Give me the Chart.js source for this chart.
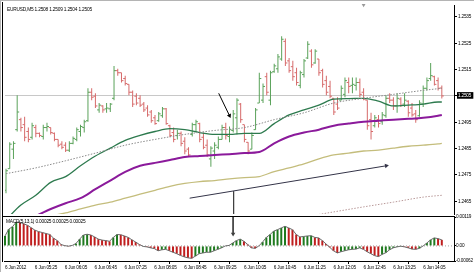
<!DOCTYPE html>
<html>
<head>
<meta charset="utf-8">
<script src="https://cdn.jsdelivr.net/npm/chart.js@4.4.1/dist/chart.umd.min.js"></script>
<style>
  html, body { margin: 0; padding: 0; background: #fff; }
  #wrap { position: relative; width: 474px; height: 272px; overflow: hidden; background: #fff; }
  canvas { position: absolute; left: 0; }
  #main { top: 0; }
  #sub { top: 210px; }
  .rule { position: absolute; }
</style>
</head>
<body>
<div id="wrap">
  <canvas id="main" width="474" height="219"></canvas>
  <canvas id="sub" width="474" height="62"></canvas>
  <div class="rule" style="left:0;top:0;width:474px;height:1px;background:#b4b4b4"></div>
  <div class="rule" style="left:0;top:0;width:1px;height:272px;background:#b4b4b4"></div>
  <div class="rule" style="left:2px;top:2px;width:1px;height:260px;background:#000"></div>
  <div class="rule" style="left:2px;top:216px;width:453px;height:1px;background:#000"></div>
</div>
<script>
// EURUSD M5, 6 Jun 2012 - one value per bar
const opens = [
  1.24692, 1.24774, 1.24848, 1.24922, 1.24960, 1.24941, 1.24915, 1.24893, 1.24930, 1.24908,
  1.24896, 1.24930, 1.24930, 1.24908, 1.24885, 1.24867, 1.24863, 1.24844, 1.24870, 1.24885,
  1.24915, 1.24930, 1.24956, 1.25064, 1.25049, 1.24997, 1.25012, 1.25001, 1.25001, 1.25041,
  1.25146, 1.25138, 1.25116, 1.25094, 1.25064, 1.25049, 1.25041, 1.25019, 1.25004, 1.24989,
  1.24967, 1.24956, 1.24975, 1.25001, 1.24937, 1.24911, 1.24900, 1.24908, 1.24878, 1.24848,
  1.24904, 1.24941, 1.24945, 1.24893, 1.24863, 1.24811, 1.24841, 1.24855, 1.24885, 1.24930,
  1.24896, 1.24919, 1.24967, 1.25019, 1.24941, 1.24874, 1.24848, 1.24922, 1.25023, 1.25034,
  1.25123, 1.25034, 1.25142, 1.25153, 1.25190, 1.25257, 1.25183, 1.25161, 1.25138, 1.25090,
  1.25131, 1.25194, 1.25220, 1.25175, 1.25190, 1.25146, 1.25108, 1.25086, 1.25041, 1.25019,
  1.25034, 1.25056, 1.25101, 1.25090, 1.25090, 1.25101, 1.25064, 1.25034, 1.24960, 1.24937,
  1.24960, 1.24952, 1.24975, 1.25041, 1.25034, 1.25012, 1.25038, 1.25019, 1.25030, 1.25004,
  1.24982, 1.24975, 1.25019, 1.25079, 1.25116, 1.25123, 1.25108, 1.25080
];
const highs = [
  1.24774, 1.24874, 1.24878, 1.25053, 1.24967, 1.24971, 1.24930, 1.24948, 1.24941, 1.24911,
  1.24941, 1.24948, 1.24930, 1.24911, 1.24885, 1.24878, 1.24874, 1.24878, 1.24896, 1.24930,
  1.24941, 1.24960, 1.25079, 1.25079, 1.25060, 1.25023, 1.25015, 1.25023, 1.25023, 1.25164,
  1.25153, 1.25138, 1.25127, 1.25094, 1.25071, 1.25060, 1.25053, 1.25027, 1.25015, 1.24997,
  1.24978, 1.24989, 1.25008, 1.25004, 1.24941, 1.24930, 1.24922, 1.24915, 1.24893, 1.24855,
  1.24948, 1.24960, 1.24948, 1.24911, 1.24885, 1.24859, 1.24874, 1.24896, 1.24941, 1.24948,
  1.24934, 1.24997, 1.25041, 1.25023, 1.24941, 1.24874, 1.24911, 1.25004, 1.25138, 1.25097,
  1.25138, 1.25146, 1.25172, 1.25209, 1.25276, 1.25268, 1.25194, 1.25183, 1.25157, 1.25146,
  1.25190, 1.25257, 1.25227, 1.25227, 1.25190, 1.25153, 1.25127, 1.25108, 1.25041, 1.25045,
  1.25090, 1.25120, 1.25120, 1.25120, 1.25120, 1.25116, 1.25079, 1.25034, 1.24986, 1.24978,
  1.24978, 1.24989, 1.25053, 1.25060, 1.25045, 1.25060, 1.25045, 1.25060, 1.25034, 1.25023,
  1.24997, 1.25034, 1.25090, 1.25120, 1.25175, 1.25127, 1.25120, 1.25090
];
const lows = [
  1.24681, 1.24774, 1.24811, 1.24915, 1.24915, 1.24878, 1.24874, 1.24885, 1.24893, 1.24893,
  1.24885, 1.24915, 1.24904, 1.24878, 1.24855, 1.24848, 1.24837, 1.24837, 1.24867, 1.24878,
  1.24896, 1.24911, 1.24952, 1.25034, 1.25004, 1.24986, 1.24986, 1.24986, 1.24989, 1.25034,
  1.25127, 1.25101, 1.25090, 1.25053, 1.25008, 1.25015, 1.25008, 1.24989, 1.24971, 1.24948,
  1.24941, 1.24952, 1.24967, 1.24941, 1.24893, 1.24874, 1.24885, 1.24859, 1.24829, 1.24818,
  1.24896, 1.24911, 1.24874, 1.24848, 1.24818, 1.24781, 1.24811, 1.24848, 1.24885, 1.24885,
  1.24874, 1.24911, 1.24904, 1.24948, 1.24874, 1.24829, 1.24848, 1.24922, 1.25023, 1.25023,
  1.25053, 1.25015, 1.25138, 1.25138, 1.25183, 1.25164, 1.25138, 1.25108, 1.25090, 1.25079,
  1.25120, 1.25190, 1.25157, 1.25172, 1.25127, 1.25082, 1.25053, 1.25041, 1.24978, 1.24997,
  1.25034, 1.25045, 1.25060, 1.25060, 1.25071, 1.25045, 1.25034, 1.24922, 1.24885, 1.24930,
  1.24930, 1.24941, 1.24967, 1.25023, 1.24997, 1.24986, 1.25008, 1.25008, 1.24971, 1.24971,
  1.24948, 1.24971, 1.25008, 1.25071, 1.25108, 1.25090, 1.25071, 1.25040
];
const closes = [
  1.24766, 1.24867, 1.24870, 1.24989, 1.24930, 1.24893, 1.24885, 1.24937, 1.24908, 1.24900,
  1.24930, 1.24934, 1.24911, 1.24885, 1.24863, 1.24855, 1.24844, 1.24870, 1.24889, 1.24922,
  1.24934, 1.24952, 1.25064, 1.25045, 1.25012, 1.25015, 1.24997, 1.25004, 1.25019, 1.25146,
  1.25138, 1.25108, 1.25097, 1.25064, 1.25019, 1.25023, 1.25015, 1.24997, 1.24978, 1.24956,
  1.24945, 1.24982, 1.25001, 1.24945, 1.24900, 1.24885, 1.24908, 1.24870, 1.24841, 1.24826,
  1.24941, 1.24952, 1.24885, 1.24855, 1.24826, 1.24852, 1.24863, 1.24885, 1.24930, 1.24900,
  1.24922, 1.24982, 1.25034, 1.24960, 1.24885, 1.24841, 1.24900, 1.24997, 1.25116, 1.25086,
  1.25064, 1.25138, 1.25164, 1.25198, 1.25265, 1.25175, 1.25146, 1.25123, 1.25101, 1.25138,
  1.25183, 1.25246, 1.25168, 1.25220, 1.25138, 1.25094, 1.25064, 1.25049, 1.24989, 1.25004,
  1.25079, 1.25108, 1.25086, 1.25094, 1.25101, 1.25056, 1.25038, 1.24937, 1.24915, 1.24967,
  1.24945, 1.24978, 1.25041, 1.25034, 1.25012, 1.25041, 1.25015, 1.25034, 1.24986, 1.24978,
  1.24960, 1.25023, 1.25079, 1.25108, 1.25127, 1.25094, 1.25079, 1.25050
];

// moving averages, every 4th bar
const maIdx = [0, 4, 8, 12, 16, 20, 24, 28, 32, 36, 40, 44, 48, 52, 56, 60, 64, 68, 72, 76, 80, 84, 88, 92, 96, 100, 104, 108, 112, 116, 117];
const maGreen = [
  1.24580, 1.24636, 1.24673, 1.24722, 1.24744, 1.24785, 1.24822, 1.24852, 1.24881, 1.24900,
  1.24915, 1.24926, 1.24922, 1.24911, 1.24904, 1.24904, 1.24908, 1.24908, 1.24945, 1.24978,
  1.24997, 1.25015, 1.25038, 1.25040, 1.25041, 1.25030, 1.25012, 1.25015, 1.25019, 1.25027, 1.25027
];
const maPurple = [
  1.24558, 1.24576, 1.24595, 1.24621, 1.24643, 1.24662, 1.24696, 1.24729, 1.24762, 1.24785,
  1.24796, 1.24807, 1.24818, 1.24822, 1.24826, 1.24829, 1.24833, 1.24837, 1.24870, 1.24896,
  1.24911, 1.24922, 1.24937, 1.24945, 1.24952, 1.24956, 1.24960, 1.24963, 1.24967, 1.24975, 1.24978
];
const maKhaki = [
  1.24558, 1.24573, 1.24584, 1.24595, 1.24606, 1.24621, 1.24636, 1.24647, 1.24662, 1.24677,
  1.24692, 1.24707, 1.24718, 1.24725, 1.24729, 1.24735, 1.24740, 1.24744, 1.24763, 1.24777,
  1.24792, 1.24811, 1.24826, 1.24833, 1.24841, 1.24844, 1.24852, 1.24859, 1.24863, 1.24868, 1.24870
];
const slowIdx = [0, 8, 16, 24, 32, 40, 48, 56, 64, 72, 80, 88, 96, 104, 112, 117];
const maDotted = [
  1.24755, 1.24777, 1.24804, 1.24833, 1.24863, 1.24885, 1.24904, 1.24919,
  1.24930, 1.24960, 1.24986, 1.25023, 1.25041, 1.25056, 1.25071, 1.25079
];
const lowerIdx = [72, 80, 88, 96, 104, 112, 117];
const lowerBand = [1.24577, 1.24591, 1.24610, 1.24629, 1.24647, 1.24666, 1.24673];

// oscillator pane
const macd = [
  0.00041, 0.00069, 0.00079, 0.00098, 0.00097, 0.00091, 0.00085, 0.00075, 0.00065, 0.00059,
  0.00055, 0.00051, 0.00047, 0.00032, 0.00022, 0.00006, 0.00001, -0.00001, 0.00002, 0.00010,
  0.00028, 0.00045, 0.00048, 0.00045, 0.00037, 0.00028, 0.00024, 0.00022, 0.00019, 0.00035,
  0.00047, 0.00046, 0.00041, 0.00035, 0.00025, 0.00016, 0.00006, -0.00002, -0.00004, -0.00008,
  -0.00011, -0.00020, -0.00016, -0.00014, -0.00020, -0.00026, -0.00032, -0.00039, -0.00045, -0.00049,
  -0.00051, -0.00042, -0.00032, -0.00029, -0.00026, -0.00026, -0.00020, -0.00014, -0.00008, 0.00000,
  0.00002, 0.00012, 0.00022, 0.00028, 0.00019, 0.00006, -0.00008, -0.00010, 0.00000, 0.00016,
  0.00035, 0.00047, 0.00061, 0.00067, 0.00074, 0.00081, 0.00074, 0.00067, 0.00047, 0.00037,
  0.00039, 0.00041, 0.00042, 0.00035, 0.00033, 0.00022, 0.00008, -0.00006, -0.00020, -0.00029,
  -0.00024, -0.00020, -0.00016, -0.00014, -0.00013, -0.00008, -0.00014, -0.00024, -0.00032, -0.00040,
  -0.00044, -0.00035, -0.00028, -0.00016, -0.00008, -0.00004, -0.00001, -0.00004, -0.00008, -0.00013,
  -0.00014, -0.00010, 0.00000, 0.00012, 0.00025, 0.00033, 0.00030, 0.00025
];

// axes
const timeTicks = [0, 8, 16, 24, 32, 40, 48, 56, 64, 72, 80, 88, 96, 104, 112];
const timeLabels = ['6 Jun 2012', '6 Jun 05:25', '6 Jun 06:05', '6 Jun 06:45', '6 Jun 07:25',
  '6 Jun 08:05', '6 Jun 08:45', '6 Jun 09:25', '6 Jun 10:05', '6 Jun 10:45', '6 Jun 11:25',
  '6 Jun 12:05', '6 Jun 12:45', '6 Jun 13:25', '6 Jun 14:05'];
const priceTicks = [1.2465, 1.2475, 1.2485, 1.2495, 1.2505, 1.2515, 1.2525, 1.2535];
const macdTicks = [-0.00062, 0, 0.00119];

// hand drawn objects on the chart
const arrowNote = [{x: 57.1, y: 1.25060}, {x: 60.0, y: 1.24975}];
const arrowTrend = [{x: 49.3, y: 1.24662}, {x: 102.1, y: 1.24785}];
const arrowDownX = 61.1;
const arrowDownTop = 1.24688;
const arrowDownEnd = 0.00049;
const shiftBar = 96;

const X_MIN = -0.27, X_MAX = 120.27;
const PRICE_MIN = 1.24602, PRICE_MAX = 1.25395;
const MACD_MIN = -0.00062, MACD_MAX = 0.00119;
const last = closes.length - 1;
const bid = 1.2505;

const FONT = '"Liberation Sans Narrow", "Liberation Sans", sans-serif';
Chart.defaults.font.family = FONT;
Chart.defaults.font.size = 4.7;
Chart.defaults.color = '#000';

const UP = '#5aa25a', DOWN = '#d66a6a', FLAT = '#3a3a3a';
const barColor = closes.map((c, i) => c > opens[i] ? UP : (c < opens[i] ? DOWN : FLAT));
const macdColor = macd.map((v, i) => (i === 0 || v >= macd[i - 1]) ? '#1f7a1f' : '#c01e1e');

const pts = (idx, vals) => idx.map((x, k) => ({x: x, y: vals[k]}));

// tighter text, and a small caption in the top left of a pane
const paneText = {
    id: 'paneText',
    beforeDraw(chart) {
        chart.ctx.letterSpacing = '-0.2px';
    },
    afterDraw(chart, args, opts) {
        const {ctx, chartArea} = chart;
        ctx.save();
        ctx.font = '4.8px ' + FONT;
        ctx.fillStyle = '#000';
        ctx.textBaseline = 'top';
        ctx.fillText(opts.text, chartArea.left + 2, chartArea.top + 2);
        ctx.restore();
    }
};

function maLine(idx, vals, color, width, dash) {
    return {
        type: 'line', data: pts(idx, vals), borderColor: color, borderWidth: width,
        borderDash: dash || [], pointRadius: 0, cubicInterpolationMode: 'monotone', order: 5
    };
}

function arrow(data, color, rot) {
    return {
        type: 'line', data: data, borderColor: color, borderWidth: 1,
        pointRadius: [0, 2.6], pointStyle: 'triangle', pointRotation: [0, rot],
        pointBackgroundColor: color, pointBorderColor: color, pointBorderWidth: 0, order: 1
    };
}

const headerText = 'EURUSD,M5 ' + [opens[last], highs[last], lows[last], closes[last]].map(v => v.toFixed(4)).join(' ');

new Chart(document.getElementById('main'), {
    type: 'bar',
    data: {
        datasets: [
            maLine(slowIdx, maDotted, '#8a8a8a', 1, [1.5, 1.5]),
            maLine(lowerIdx, lowerBand, '#b89898', 1, [1.5, 1.5]),
            maLine(maIdx, maKhaki, '#c4bd7c', 1.3),
            maLine(maIdx, maPurple, '#8b1a9b', 2),
            maLine(maIdx, maGreen, '#2d7a4e', 1.3),
            {
                type: 'bar', data: lows.map((l, i) => ({x: i, y: [l, highs[i]]})),
                backgroundColor: barColor, barThickness: 1, borderWidth: 0, inflateAmount: 0, order: 20
            },
            {
                type: 'line', data: opens.map((o, i) => ({x: i - 0.27, y: o})), showLine: false,
                pointStyle: 'line', pointRadius: 1, pointBorderWidth: 1, pointBorderColor: barColor, order: 19
            },
            {
                type: 'line', data: closes.map((c, i) => ({x: i + 0.27, y: c})), showLine: false,
                pointStyle: 'line', pointRadius: 1, pointBorderWidth: 1, pointBorderColor: barColor, order: 19
            },
            arrow(arrowNote, '#000000', 154),
            arrow(arrowTrend, '#343448', 80.5),
            {
                type: 'line', data: [{x: arrowDownX, y: arrowDownTop}, {x: arrowDownX, y: PRICE_MIN}],
                borderColor: '#404040', borderWidth: 1, pointRadius: 0, order: 1
            },
            {
                type: 'line', data: [{x: shiftBar, y: PRICE_MAX}], showLine: false, clip: false,
                pointStyle: 'triangle', pointRotation: 180, pointRadius: 2.2,
                pointBackgroundColor: '#9a9a9a', pointBorderWidth: 0, order: 1
            }
        ]
    },
    options: {
        responsive: false, animation: false, devicePixelRatio: 1, events: [],
        layout: {padding: {left: 2, top: 3, right: 0, bottom: 3}},
        plugins: {legend: {display: false}, tooltip: {enabled: false}, paneText: {text: headerText}},
        scales: {
            x: {type: 'linear', min: X_MIN, max: X_MAX, offset: false, display: false},
            y: {
                position: 'right', min: PRICE_MIN, max: PRICE_MAX,
                afterBuildTicks: s => { s.ticks = priceTicks.map(v => ({value: v})); },
                afterFit: s => { s.width = 20; },
                grid: {
                    color: c => (c.tick && c.tick.value === bid) ? '#c8c8c8' : 'rgba(0,0,0,0)',
                    tickColor: '#000', tickLength: 3, lineWidth: 1
                },
                border: {display: true, color: '#000'},
                ticks: {
                    padding: 1, callback: v => v.toFixed(4),
                    color: c => c.tick.value === bid ? '#fff' : '#000',
                    showLabelBackdrop: true,
                    backdropColor: c => c.tick.value === bid ? '#000' : 'rgba(0,0,0,0)',
                    backdropPadding: {top: 1, bottom: 0, left: 1, right: 1}
                }
            }
        }
    },
    plugins: [paneText]
});

const macdText = 'MACD(5,13,1) ' + [macd[last], macd[last], macd[last]].map(v => v.toFixed(5)).join(' ');

new Chart(document.getElementById('sub'), {
    type: 'bar',
    data: {
        datasets: [
            {
                type: 'line', data: [{x: X_MIN, y: 0}, {x: X_MAX, y: 0}], borderColor: '#a0a0a0',
                borderWidth: 1, borderDash: [1, 2], pointRadius: 0, order: 30
            },
            {
                type: 'bar', data: macd.map((v, i) => ({x: i, y: v})), backgroundColor: macdColor,
                barThickness: 2, borderWidth: 0, inflateAmount: 0, order: 20
            },
            {
                type: 'line', data: macd.map((v, i) => ({x: i, y: v})), borderColor: '#6a6a6a',
                borderWidth: 1, pointRadius: 0, order: 10
            },
            arrow([{x: arrowDownX, y: MACD_MAX}, {x: arrowDownX, y: arrowDownEnd}], '#404040', 180)
        ]
    },
    options: {
        responsive: false, animation: false, devicePixelRatio: 1, events: [],
        layout: {padding: {left: 2, top: 7, right: 0, bottom: 0}},
        plugins: {legend: {display: false}, tooltip: {enabled: false}, paneText: {text: macdText}},
        scales: {
            x: {
                type: 'linear', min: X_MIN, max: X_MAX, offset: false,
                afterBuildTicks: s => { s.ticks = timeTicks.map(v => ({value: v})); },
                afterFit: s => { s.height = 11; },
                grid: {drawOnChartArea: false, tickColor: '#000', tickLength: 3},
                border: {display: true, color: '#000'},
                ticks: {
                    align: 'start', padding: 1, autoSkip: false, maxRotation: 0,
                    callback: (v, i) => timeLabels[i]
                }
            },
            y: {
                position: 'right', min: MACD_MIN, max: MACD_MAX,
                afterBuildTicks: s => { s.ticks = macdTicks.map(v => ({value: v})); },
                afterFit: s => { s.width = 20; },
                grid: {drawOnChartArea: false, tickColor: '#000', tickLength: 2},
                border: {display: true, color: '#000'},
                ticks: {padding: 0, callback: v => v === 0 ? '0.00' : v.toFixed(5)}
            }
        }
    },
    plugins: [paneText]
});
</script>
</body>
</html>
